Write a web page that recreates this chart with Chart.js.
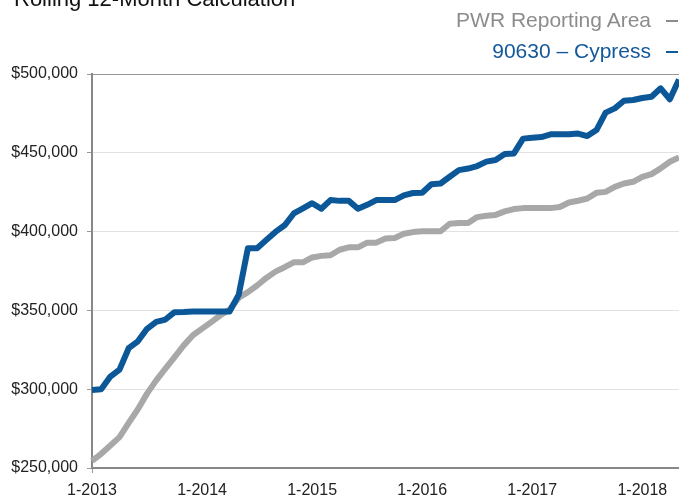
<!DOCTYPE html>
<html><head><meta charset="utf-8">
<script src="https://cdn.jsdelivr.net/npm/chart.js@4/dist/chart.umd.min.js"></script>
<style>
html,body{margin:0;padding:0;background:#fff;overflow:hidden}
#wrap{position:relative;width:679px;height:497px;font-family:"Liberation Sans",Arial,sans-serif;overflow:hidden}
canvas{position:absolute;left:0;top:0}
.t{position:absolute;white-space:nowrap}
.dash{position:absolute;height:2px;width:12px;left:666px}
</style></head><body>
<div id="wrap">
<canvas id="c" width="679" height="497"></canvas>
<div class="t" style="left:14px;top:-12px;font-size:22px;line-height:22px;color:#111">Rolling 12-Month Calculation</div>
<div class="t" style="right:28px;top:9px;font-size:21px;line-height:21px;color:#8c8c8c">PWR Reporting Area</div>
<div class="dash" style="top:20px;background:#8c8c8c"></div>
<div class="t" style="right:28px;top:40px;font-size:21px;line-height:21px;color:#13589a">90630 – Cypress</div>
<div class="dash" style="top:51px;background:#13589a"></div>
</div>
<script>
const months = [
 "1-2013","2-2013","3-2013","4-2013","5-2013","6-2013","7-2013","8-2013","9-2013","10-2013","11-2013","12-2013",
 "1-2014","2-2014","3-2014","4-2014","5-2014","6-2014","7-2014","8-2014","9-2014","10-2014","11-2014","12-2014",
 "1-2015","2-2015","3-2015","4-2015","5-2015","6-2015","7-2015","8-2015","9-2015","10-2015","11-2015","12-2015",
 "1-2016","2-2016","3-2016","4-2016","5-2016","6-2016","7-2016","8-2016","9-2016","10-2016","11-2016","12-2016",
 "1-2017","2-2017","3-2017","4-2017","5-2017","6-2017","7-2017","8-2017","9-2017","10-2017","11-2017","12-2017",
 "1-2018","2-2018","3-2018","4-2018","5-2018"
];
const pwrArea = [
 254500, 259000, 264300, 269600, 278600, 287300, 297200, 305600, 313000, 320400, 327800, 334200,
 338400, 342600, 346900, 350500, 358000, 361600, 365800, 370600, 374600, 377400, 380500, 380500,
 383600, 384600, 385000, 388500, 390000, 390000, 393000, 393000, 395600, 396000, 398600, 399700,
 400200, 400200, 400200, 405000, 405400, 405400, 409200, 410000, 410600, 412800, 414300, 414900,
 414900, 414900, 414900, 415600, 418500, 419600, 421000, 424600, 425200, 428400, 430500, 431600,
 434800, 436500, 440100, 444300, 447100
];
const cypress = [
 299500, 300000, 308000, 312400, 326000, 330400, 338300, 342700, 344200, 348900, 349000, 349300,
 349300, 349300, 349300, 349300, 360000, 389500, 389500, 394600, 399800, 404000, 411500, 414700,
 418000, 414500, 420000, 419500, 419500, 414500, 417000, 420000, 420000, 420000, 423000, 424500,
 424700, 430000, 430500, 434800, 439000, 440000, 441600, 444400, 445400, 449200, 449600, 459000,
 459600, 460000, 461700, 461700, 461700, 462200, 460600, 464400, 475500, 478200, 483000, 483500,
 484800, 485600, 490900, 484000, 496500
];
const yTicks = [250000, 300000, 350000, 400000, 450000, 500000];

Chart.defaults.font.family = "'Liberation Sans', Arial, sans-serif";
const isYear = i => months[i] && months[i].startsWith("1-");

new Chart(document.getElementById('c'), {
  type: 'line',
  data: {
    labels: months,
    datasets: [
      { label: '90630 – Cypress', data: cypress, borderColor: '#0b5797', order: 0 },
      { label: 'PWR Reporting Area', data: pwrArea, borderColor: '#a8a8a8', order: 1 }
    ]
  },
  options: {
    responsive: false,
    animation: false,
    layout: { padding: { top: 74, right: 0, left: 0, bottom: 0 } },
    plugins: { legend: { display: false }, title: { display: false }, tooltip: { enabled: false } },
    elements: {
      point: { radius: 0 },
      line: { borderWidth: 6, tension: 0, borderJoinStyle: 'round', borderCapStyle: 'butt', fill: false }
    },
    scales: {
      x: {
        type: 'category',
        offset: false,
        grid: {
          color: ctx => isYear(ctx.index) ? '#e2e2e2' : 'rgba(0,0,0,0)',
          tickColor: ctx => isYear(ctx.index) ? '#999' : 'rgba(0,0,0,0)',
          tickLength: 5,
          lineWidth: 1
        },
        border: { color: '#888', width: 2 },
        ticks: {
          autoSkip: false, maxRotation: 0, minRotation: 0,
          callback: (v, i) => isYear(i) ? months[i] : null,
          color: '#222', font: { size: 16 }, padding: 8
        },
        afterFit: s => { s.height = 29; }
      },
      y: {
        min: yTicks[0], max: yTicks[yTicks.length - 1],
        afterBuildTicks: s => { s.ticks = yTicks.map(v => ({ value: v })); },
        grid: {
          color: ctx => (ctx.tick && ctx.tick.value === 500000) ? '#999' : '#e2e2e2',
          tickColor: '#999', tickLength: 5, lineWidth: 1
        },
        border: { color: '#888', width: 2 },
        ticks: {
          callback: v => '$' + Number(v).toLocaleString('en-US'),
          color: '#222', font: { size: 16 }, padding: 9
        },
        afterFit: s => { s.width = 92; }
      }
    }
  }
});
</script>
</body></html>
